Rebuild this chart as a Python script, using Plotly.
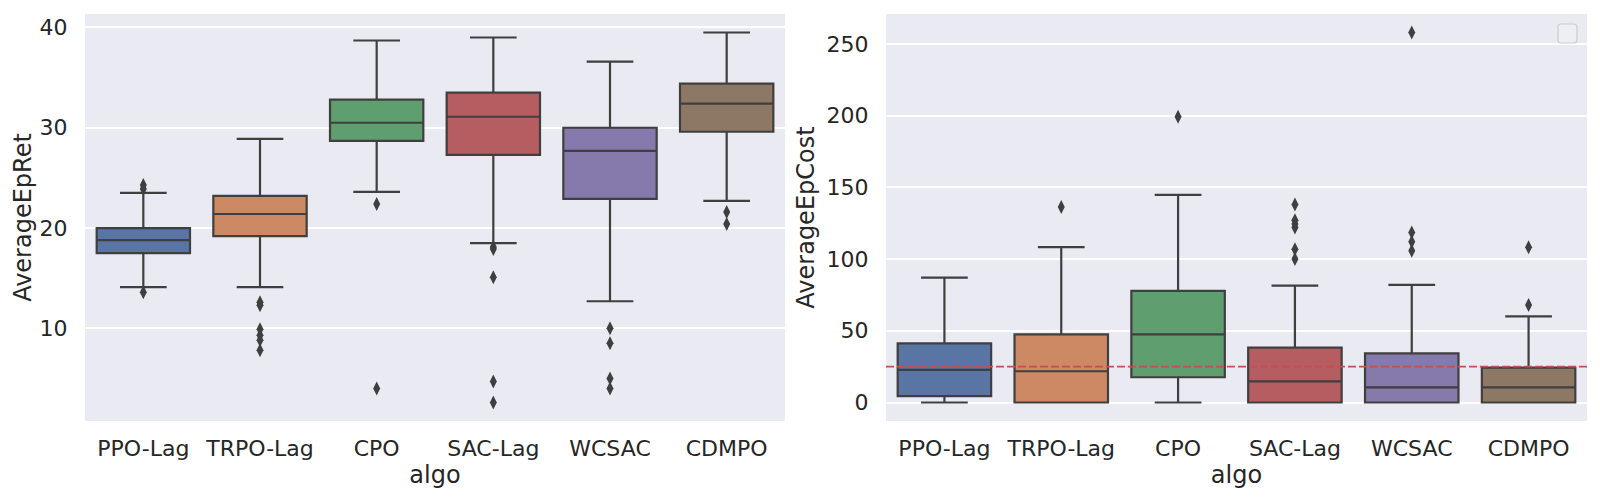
import plotly.graph_objects as go

# categorias do eixo x
algos = ["PPO-Lag", "TRPO-Lag", "CPO", "SAC-Lag", "WCSAC", "CDMPO"]

# AverageEpRet - estatisticas das caixas
ret_low = [14.1, 14.1, 23.6, 18.5, 12.7, 22.7]
ret_q1 = [17.5, 19.2, 28.7, 27.3, 22.9, 29.6]
ret_median = [18.8, 21.4, 30.5, 31.1, 27.7, 32.4]
ret_q3 = [20.0, 23.2, 32.8, 33.5, 30.0, 34.4]
ret_high = [23.5, 28.9, 38.7, 39.0, 36.6, 39.5]
ret_outliers = [
    [24.3, 23.9, 13.6],
    [12.6, 12.3, 9.9, 9.3, 8.8, 7.8],
    [22.4, 4.0],
    [18.1, 17.9, 15.1, 4.7, 2.6],
    [10.0, 8.5, 5.0, 4.0],
    [21.6, 20.4],
]

# AverageEpCost - estatisticas das caixas
cost_low = [0.0, 0.0, 0.0, 0.0, 0.0, 0.0]
cost_q1 = [4.4, 0.0, 17.6, 0.0, 0.0, 0.0]
cost_median = [22.7, 21.8, 47.5, 14.8, 10.6, 10.6]
cost_q3 = [41.2, 47.5, 77.8, 38.2, 34.3, 24.3]
cost_high = [87.1, 108.4, 144.8, 81.5, 82.0, 60.0]
cost_outliers = [
    [],
    [136.4],
    [199.2],
    [138.1, 127.0, 124.5, 122.0, 106.8, 100.1],
    [258.0, 118.6, 112.1, 105.9],
    [108.2, 67.9],
]
cost_limit = 25

colors = ["#5875A4", "#CC8963", "#5F9E6E", "#B55D60", "#857AAB", "#8D7866"]
gray = "#3f3f3f"
text_color = "#262626"
font = "DejaVu Sans"

fig = go.Figure()


def add_boxes(low, q1, med, q3, high, outliers, xa, ya):
    for i, algo in enumerate(algos):
        fig.add_trace(go.Box(
            x=[algo], lowerfence=[low[i]], q1=[q1[i]], median=[med[i]],
            q3=[q3[i]], upperfence=[high[i]], boxpoints=False,
            width=0.8, whiskerwidth=0.5, fillcolor=colors[i],
            line=dict(color=gray, width=2.2), showlegend=False,
            hoverinfo="skip", xaxis=xa, yaxis=ya))
        if outliers[i]:
            fig.add_trace(go.Scatter(
                x=[algo] * len(outliers[i]), y=outliers[i], mode="markers",
                marker=dict(symbol="diamond-tall", size=10, color=gray),
                showlegend=False, hoverinfo="skip", xaxis=xa, yaxis=ya))


add_boxes(ret_low, ret_q1, ret_median, ret_q3, ret_high, ret_outliers, "x", "y")
add_boxes(cost_low, cost_q1, cost_median, cost_q3, cost_high, cost_outliers, "x2", "y2")


def pad_range(vals):
    lo, hi = min(vals), max(vals)
    d = (hi - lo) * 0.05
    return [lo - d, hi + d]


ret_all = ret_low + ret_high + [v for o in ret_outliers for v in o]
cost_all = cost_low + cost_high + [v for o in cost_outliers for v in o]

xcommon = dict(type="category", categoryorder="array", categoryarray=algos,
               range=[-0.5, 5.5], showgrid=False, zeroline=False,
               showline=False, ticks="outside", ticklen=8,
               tickcolor="rgba(0,0,0,0)",
               tickfont=dict(family=font, size=22, color=text_color),
               title=dict(text="algo", standoff=4,
                          font=dict(family=font, size=24, color=text_color)))
ycommon = dict(showgrid=True, gridcolor="white", gridwidth=1.5,
               zeroline=False, showline=False, ticks="outside", ticklen=12,
               tickcolor="rgba(0,0,0,0)",
               tickfont=dict(family=font, size=22, color=text_color))

fig.update_layout(
    width=1600, height=500,
    margin=dict(l=0, r=0, t=0, b=0),
    paper_bgcolor="white", plot_bgcolor="#EAEAF2",
    boxmode="overlay",
    xaxis=dict(xcommon, domain=[85 / 1600, 785 / 1600], anchor="y"),
    xaxis2=dict(xcommon, domain=[886 / 1600, 1587 / 1600], anchor="y2"),
    yaxis=dict(ycommon, domain=[1 - 421 / 500, 1 - 14 / 500], anchor="x",
               range=pad_range(ret_all), dtick=10,
               title=dict(text="AverageEpRet", standoff=1,
                          font=dict(family=font, size=24, color=text_color))),
    yaxis2=dict(ycommon, domain=[1 - 421 / 500, 1 - 14 / 500], anchor="x2",
                range=pad_range(cost_all), dtick=50,
                title=dict(text="AverageEpCost", standoff=5,
                           font=dict(family=font, size=24, color=text_color))),
)

# linha do limite de custo
fig.add_shape(type="line", xref="x2 domain", yref="y2", x0=0, x1=1,
              y0=cost_limit, y1=cost_limit,
              line=dict(color="#C44E52", width=1.8, dash="8px,3px"))

# legenda vazia (caixa arredondada)
x0, x1 = 1558 / 1600, 1577 / 1600
y0, y1 = 1 - 43 / 500, 1 - 24 / 500
rx, ry = 3 / 1600, 3 / 500
path = (f"M {x0 + rx},{y0} L {x1 - rx},{y0} Q {x1},{y0} {x1},{y0 + ry} "
        f"L {x1},{y1 - ry} Q {x1},{y1} {x1 - rx},{y1} L {x0 + rx},{y1} "
        f"Q {x0},{y1} {x0},{y1 - ry} L {x0},{y0 + ry} Q {x0},{y0} {x0 + rx},{y0} Z")
fig.add_shape(type="path", xref="paper", yref="paper", path=path,
              fillcolor="rgba(238,238,245,0.9)", line=dict(color="#cccccc", width=1.2))

# sem margem do body, para a figura ficar no canto da janela
fig.write_html("out.html", config={"displayModeBar": False},
               post_script="document.body.style.margin='0';")
